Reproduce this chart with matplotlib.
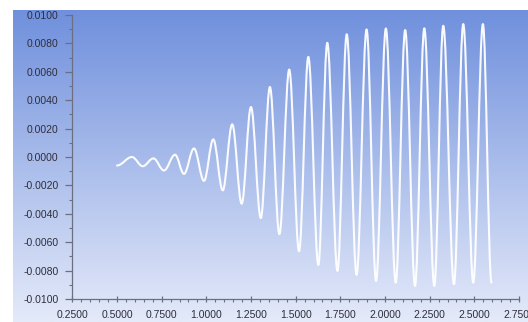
import numpy as np
import matplotlib
matplotlib.use("Agg")
import matplotlib.pyplot as plt
from matplotlib.path import Path
from matplotlib.patches import PathPatch
from matplotlib.ticker import MultipleLocator, FormatStrFormatter

# extrema of the signal (time, value)
peak_x = [0.584, 0.704, 0.825, 0.931, 1.039, 1.145, 1.250, 1.356, 1.464, 1.571,
          1.677, 1.786, 1.897, 2.005, 2.113, 2.220, 2.326, 2.438, 2.548]
peak_y = [0.0000, -0.0001, 0.00016, 0.0006, 0.00124, 0.0023, 0.00352, 0.00493, 0.00616, 0.00705,
          0.00804, 0.00864, 0.00898, 0.00905, 0.00894, 0.00906, 0.00924, 0.00936, 0.00936]
trough_x = [0.500, 0.644, 0.763, 0.875, 0.987, 1.092, 1.198, 1.305, 1.409, 1.519,
            1.627, 1.734, 1.841, 1.950, 2.060, 2.168, 2.276, 2.386, 2.494, 2.596]
trough_y = [-0.0006, -0.00065, -0.00095, -0.00119, -0.00168, -0.00235, -0.00329, -0.0043, -0.00543, -0.00664,
            -0.0076, -0.00802, -0.0083, -0.00873, -0.00885, -0.00908, -0.00908, -0.00896, -0.00885, -0.00885]

fig = plt.figure(figsize=(5.28, 3.22), dpi=100)

# gradient backdrop
bg = fig.add_axes([13 / 528, 0, 1 - 13 / 528, 312 / 322], zorder=0)
top = np.array([112, 144, 221]) / 255
bot = np.array([228, 234, 249]) / 255
t = np.linspace(0, 1, 256)[:, None]
grad = top[None, :] * (1 - t) + bot[None, :] * t
bg.imshow(grad[:, None, :], aspect="auto", extent=[0, 1, 0, 1])
bg.set_axis_off()

ax = fig.add_axes([72.3 / 528, 23 / 322, (519 - 72.3) / 528, (299 - 15) / 322], zorder=1)
ax.set_facecolor("none")

# merge extrema in time order and join them with smooth half-wave curves
pts = sorted(zip(peak_x + trough_x, peak_y + trough_y))
verts = [pts[0]]
codes = [Path.MOVETO]
k = 0.3642
for (x0, y0), (x1, y1) in zip(pts[:-1], pts[1:]):
    dx = x1 - x0
    verts += [(x0 + k * dx, y0), (x1 - k * dx, y1), (x1, y1)]
    codes += [Path.CURVE4] * 3
ax.add_patch(PathPatch(Path(verts, codes), fill=False, edgecolor="white",
                       lw=1.5, alpha=0.95, capstyle="round", joinstyle="round"))

ax.set_xlim(0.25, 2.75)
ax.set_ylim(-0.01, 0.01)
ax.xaxis.set_major_locator(MultipleLocator(0.25))
ax.xaxis.set_minor_locator(MultipleLocator(0.05))
ax.yaxis.set_major_locator(MultipleLocator(0.002))
ax.yaxis.set_minor_locator(MultipleLocator(0.001))
ax.xaxis.set_major_formatter(FormatStrFormatter("%.4f"))
ax.yaxis.set_major_formatter(FormatStrFormatter("%.4f"))

axis_col = "#6a6f82"
for s in ["top", "right"]:
    ax.spines[s].set_visible(False)
for s in ["left", "bottom"]:
    ax.spines[s].set_color(axis_col)
    ax.spines[s].set_linewidth(0.9)

ax.tick_params(axis="y", which="major", direction="out", length=5, width=0.9,
               color=axis_col, pad=5, labelsize=7.5, labelcolor="#2e2e3a")
ax.tick_params(axis="y", which="minor", direction="out", length=2.5, width=0.8, color=axis_col)
ax.tick_params(axis="x", which="major", direction="inout", length=5, width=0.9,
               color=axis_col, pad=5.5, labelsize=7.5, labelcolor="#2e2e3a")
ax.tick_params(axis="x", which="minor", direction="out", length=2.5, width=0.8, color=axis_col)
for lab in ax.get_xticklabels() + ax.get_yticklabels():
    lab.set_fontfamily("Liberation Sans")

fig.savefig("out.png", dpi=100)
